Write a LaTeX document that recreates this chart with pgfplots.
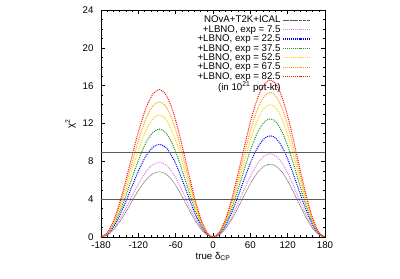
\documentclass[border=0pt]{standalone}
\usepackage{fontspec}
\setmainfont{Liberation Sans}
\usepackage{pgfplots}
\pgfplotsset{compat=1.18}
\usepackage{pgfplotstable}

\definecolor{cblack}{HTML}{555555}
\definecolor{cviolet}{HTML}{E37FE8}
\definecolor{cblue}{HTML}{0000F0}
\definecolor{cgreen}{HTML}{1E9A1E}
\definecolor{cyellow}{HTML}{FFD200}
\definecolor{corange}{HTML}{FFA000}
\definecolor{cred}{HTML}{FF1010}

\pgfplotsset{
  long legend/.style={
    legend image code/.code={\draw[mark repeat=2,mark phase=2,##1] plot coordinates {(0pt,0pt) (13pt,0pt) (27pt,0pt)};}},
}

% chi^2 vs true delta_CP, columns: base, exp = 7.5 ... 82.5
\pgfplotstableread{
d      c0    c1    c2    c3    c4    c5    c6
-180   0     0     0     0     0     0     0
-169.6 0.21  0.24  0.30  0.34  0.39  0.43  0.47
-159.1 0.81  0.92  1.15  1.33  1.51  1.67  1.83
-148.7 1.73  1.98  2.45  2.85  3.23  3.58  3.90
-138.2 2.85  3.26  4.05  4.71  5.33  5.91  6.45
-127.8 4.05  4.64  5.75  6.69  7.57  8.39  9.15
-117.3 5.18  5.93  7.35  8.55  9.68  10.73 11.70
-106.9 6.09  6.98  8.65  10.07 11.39 12.63 13.77
-96.4  6.69  7.66  9.50  11.06 12.51 13.87 15.13
-86.0  6.90  7.90  9.80  11.40 12.90 14.30 15.60
-76.4  6.69  7.66  9.50  11.06 12.51 13.87 15.13
-66.9  6.09  6.98  8.65  10.07 11.39 12.63 13.77
-57.3  5.18  5.93  7.35  8.55  9.68  10.73 11.70
-47.8  4.05  4.64  5.75  6.69  7.57  8.39  9.15
-38.2  2.85  3.26  4.05  4.71  5.33  5.91  6.45
-28.7  1.73  1.98  2.45  2.85  3.23  3.58  3.90
-19.1  0.81  0.92  1.15  1.33  1.51  1.67  1.83
-9.6   0.21  0.24  0.30  0.34  0.39  0.43  0.47
0      0     0     0     0     0     0     0
10.2   0.23  0.27  0.32  0.38  0.42  0.46  0.50
20.4   0.90  1.03  1.25  1.46  1.64  1.79  1.94
30.7   1.93  2.20  2.68  3.13  3.50  3.83  4.15
40.9   3.18  3.64  4.42  5.17  5.78  6.32  6.86
51.1   4.52  5.16  6.28  7.34  8.22  8.98  9.74
61.3   5.78  6.60  8.03  9.38  10.50 11.48 12.45
71.6   6.80  7.77  9.45  11.04 12.36 13.51 14.66
81.8   7.47  8.53  10.38 12.12 13.58 14.84 16.10
92.0   7.70  8.80  10.70 12.50 14.00 15.30 16.60
101.8  7.47  8.53  10.38 12.12 13.58 14.84 16.10
111.6  6.80  7.77  9.45  11.04 12.36 13.51 14.66
121.3  5.78  6.60  8.03  9.38  10.50 11.48 12.45
131.1  4.52  5.16  6.28  7.34  8.22  8.98  9.74
140.9  3.18  3.64  4.42  5.17  5.78  6.32  6.86
150.7  1.93  2.20  2.68  3.13  3.50  3.83  4.15
160.4  0.90  1.03  1.25  1.46  1.64  1.79  1.94
170.2  0.23  0.27  0.32  0.38  0.42  0.46  0.50
180    0     0     0     0     0     0     0
}\chisq

\begin{document}
\begin{tikzpicture}
\useasboundingbox (-101pt,-42pt) rectangle (299pt,237pt);
\begin{axis}[
  at={(0,0)}, anchor=south west,
  scale only axis,
  width=224pt, height=227pt,
  xmin=-180, xmax=180,
  ymin=0, ymax=24,
  xtick={-180,-120,...,180},
  ytick={0,4,...,24},
  minor x tick num=5,
  minor y tick num=3,
  tick align=inside,
  major tick length=4pt,
  minor tick length=2pt,
  axis line style={black, line width=0.5pt},
  tick style={black, line width=0.4pt},
  font=\fontsize{9.7}{10}\selectfont,
  /pgf/number format/assume math mode=true,
  yticklabel style={xshift=-4pt},
  xticklabel style={yshift=-1pt},
  xlabel={true δ\textsubscript{CP}},
  ylabel={χ\textsuperscript{2}},
  xlabel style={yshift=3pt},
  ylabel style={yshift=0pt},
  legend style={draw=none, fill=none, at={(1,1)}, anchor=north east,
    xshift=-11pt, yshift=-2pt, row sep=-2.9pt,
    font=\fontsize{9.7}{10}\selectfont},
  legend cell align=right,
  legend plot pos=right,
  long legend,
  legend image post style={line width=1.2pt},
  every axis plot/.append style={smooth, tension=0.5},
]
\addplot[color=cblack, line width=0.6pt, dash pattern=on 0.7pt off 0.6pt] table[x=d,y=c0] {\chisq};
\addlegendentry{NOvA+T2K+ICAL}
\addplot[color=cviolet, line width=1pt, dash pattern=on 1pt off 1pt] table[x=d,y=c1] {\chisq};
\addlegendentry{+LBNO, exp = 7.5}
\addplot[color=cblue, line width=1pt, dash pattern=on 1pt off 1pt] table[x=d,y=c2] {\chisq};
\addlegendentry{+LBNO, exp = 22.5}
\addplot[color=cgreen, line width=1pt, dash pattern=on 1pt off 1pt] table[x=d,y=c3] {\chisq};
\addlegendentry{+LBNO, exp = 37.5}
\addplot[color=cyellow, line width=1pt, dash pattern=on 1pt off 1pt] table[x=d,y=c4] {\chisq};
\addlegendentry{+LBNO, exp = 52.5}
\addplot[color=corange, line width=1pt, dash pattern=on 1pt off 1pt] table[x=d,y=c5] {\chisq};
\addlegendentry{+LBNO, exp = 67.5}
\addplot[color=cred, line width=1pt, dash pattern=on 1pt off 1pt] table[x=d,y=c6] {\chisq};
\addlegendentry{+LBNO, exp = 82.5}
\addlegendimage{empty legend}
\addlegendentry{(in 10\textsuperscript{21} pot-kt)\hspace{4pt}}
\addplot[black!65, line width=0.7pt, sharp plot, forget plot] coordinates {(-180,4) (180,4)};
\addplot[black!65, line width=0.7pt, sharp plot, forget plot] coordinates {(-180,9) (180,9)};
\end{axis}
\end{tikzpicture}
\end{document}
